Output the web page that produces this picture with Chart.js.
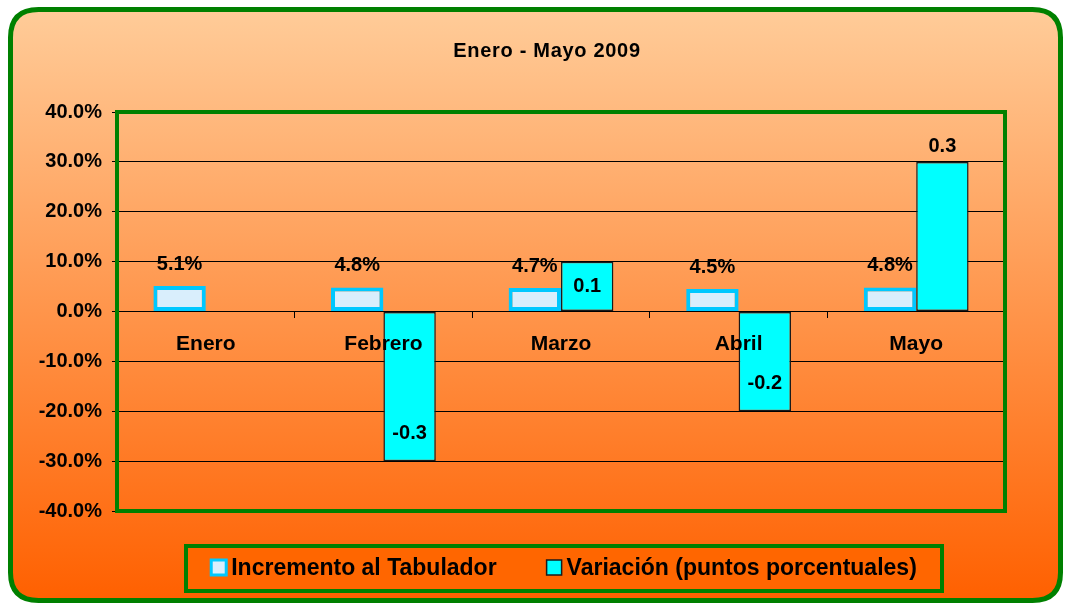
<!DOCTYPE html>
<html>
<head>
<meta charset="utf-8">
<script src="https://cdn.jsdelivr.net/npm/chart.js@4.4.0/dist/chart.umd.min.js"></script>
<style>
  html, body { margin: 0; padding: 0; background: #fff; }
  #wrap { width: 1066px; height: 604px; }
</style>
</head>
<body>
<div id="wrap"><canvas id="chart" width="1066" height="604"></canvas></div>
<script>
// data
const months = ['Enero', 'Febrero', 'Marzo', 'Abril', 'Mayo'];
const incremento = [0.051, 0.048, 0.047, 0.045, 0.048];
const variacion = [null, -0.3, 0.1, -0.2, 0.3];
const seriesNames = ['Incremento al Tabulador', 'Variación (puntos porcentuales)'];
const chartTitle = 'Enero - Mayo 2009';
const yMin = -0.4, yMax = 0.4, yStep = 0.1;

const FONT = '"Liberation Sans", Arial, sans-serif';
const GREEN = '#008000';

function pct(v) {
    if (Math.abs(v) < 1e-9) v = 0;
    return (v * 100).toFixed(1) + '%';
}

// rounded frame with the orange gradient
const framePlugin = {
    id: 'frame',
    beforeDraw(chart) {
        const ctx = chart.ctx;
        ctx.save();
        ctx.fillStyle = '#fff';
        ctx.fillRect(0, 0, chart.width, chart.height);
        const x = 10.5, y = 9.5, w = 1050, h = 591, r = 28;
        ctx.beginPath();
        ctx.moveTo(x + r, y);
        ctx.lineTo(x + w - r, y);
        ctx.quadraticCurveTo(x + w, y, x + w, y + r);
        ctx.lineTo(x + w, y + h - r);
        ctx.quadraticCurveTo(x + w, y + h, x + w - r, y + h);
        ctx.lineTo(x + r, y + h);
        ctx.quadraticCurveTo(x, y + h, x, y + h - r);
        ctx.lineTo(x, y + r);
        ctx.quadraticCurveTo(x, y, x + r, y);
        ctx.closePath();
        const g = ctx.createLinearGradient(0, y, 0, y + h);
        g.addColorStop(0, '#FFCC99');
        g.addColorStop(1, '#FF6000');
        ctx.fillStyle = g;
        ctx.fill();
        ctx.lineWidth = 5;
        ctx.strokeStyle = GREEN;
        ctx.stroke();

        // title
        ctx.fillStyle = '#000';
        ctx.font = 'bold 20px ' + FONT;
        ctx.letterSpacing = '0.7px';
        ctx.textAlign = 'center';
        ctx.textBaseline = 'middle';
        ctx.fillText(chartTitle, 547, 51);
        ctx.restore();
    }
};

// plot border, value labels and the boxed legend
const overlayPlugin = {
    id: 'overlay',
    afterDraw(chart) {
        const ctx = chart.ctx;
        const a = chart.chartArea;
        ctx.save();
        ctx.strokeStyle = GREEN;
        ctx.lineWidth = 4;
        ctx.strokeRect(a.left, a.top, a.right - a.left, a.bottom - a.top);

        ctx.fillStyle = '#000';
        ctx.font = 'bold 20px ' + FONT;
        ctx.textAlign = 'center';
        ctx.textBaseline = 'middle';

        chart.getDatasetMeta(0).data.forEach((bar, i) => {
            ctx.fillText(pct(incremento[i]), bar.x, bar.y - 22);
        });

        const maxVar = Math.max(...variacion.filter(v => v !== null));
        chart.getDatasetMeta(1).data.forEach((bar, i) => {
            const v = variacion[i];
            if (v === null) return;
            let ty;
            if (v === maxVar) ty = bar.y - 15;
            else ty = v > 0 ? bar.y + 25 : bar.y - 28;
            ctx.fillText(String(v), bar.x, ty);
        });

        // legend
        const lx = 186, ly = 546, lw = 756, lh = 45;
        ctx.fillStyle = '#FF6600';
        ctx.fillRect(lx, ly, lw, lh);
        ctx.strokeStyle = GREEN;
        ctx.lineWidth = 4;
        ctx.strokeRect(lx, ly, lw, lh);

        ctx.font = 'bold 23px ' + FONT;
        ctx.textAlign = 'left';
        const box = 15, gapBox = 5, gapItem = 50;
        const widths = seriesNames.map(s => ctx.measureText(s).width);
        const total = widths[0] + widths[1] + 2 * (box + gapBox) + gapItem;
        let cx = lx + (lw - total) / 2;
        const cy = ly + lh / 2;
        chart.data.datasets.forEach((ds, i) => {
            ctx.fillStyle = ds.backgroundColor;
            ctx.fillRect(cx, cy - box / 2 - 1, box, box);
            ctx.strokeStyle = ds.borderColor;
            ctx.lineWidth = i === 0 ? 3 : 1.5;
            ctx.strokeRect(cx, cy - box / 2 - 1, box, box);
            ctx.fillStyle = '#000';
            ctx.fillText(seriesNames[i], cx + box + gapBox, cy);
            cx += box + gapBox + widths[i] + gapItem;
        });
        ctx.restore();
    }
};

new Chart(document.getElementById('chart'), {
    type: 'bar',
    data: {
        labels: months,
        datasets: [{
            label: seriesNames[0],
            data: incremento,
            backgroundColor: '#D9EEFC',
            borderColor: '#00C8FF',
            borderWidth: 4,
            borderSkipped: false
        }, {
            label: seriesNames[1],
            data: variacion,
            backgroundColor: '#00FFFF',
            borderColor: '#1a1a1a',
            borderWidth: 1.5,
            borderSkipped: false
        }]
    },
    options: {
        responsive: false,
        animation: false,
        categoryPercentage: 0.59,
        barPercentage: 1,
        layout: { padding: { left: 0, right: 61, top: 112, bottom: 93 } },
        plugins: {
            legend: { display: false },
            tooltip: { enabled: false },
            title: { display: false }
        },
        scales: {
            x: {
                position: { y: 0 },
                grid: {
                    display: true,
                    drawOnChartArea: false,
                    drawTicks: true,
                    tickLength: 6,
                    color: '#000'
                },
                border: { display: false },
                ticks: {
                    z: 1,
                    color: '#000',
                    padding: 14,
                    font: { family: FONT, size: 21, weight: 'bold' }
                }
            },
            y: {
                min: yMin,
                max: yMax,
                grid: { color: '#000', lineWidth: 1, tickLength: 5 },
                border: { display: false },
                afterFit(scale) { scale.width = 117; },
                ticks: {
                    stepSize: yStep,
                    color: '#000',
                    padding: 10,
                    font: { family: FONT, size: 20, weight: 'bold' },
                    callback: v => pct(v)
                }
            }
        }
    },
    plugins: [framePlugin, overlayPlugin]
});
</script>
</body>
</html>
